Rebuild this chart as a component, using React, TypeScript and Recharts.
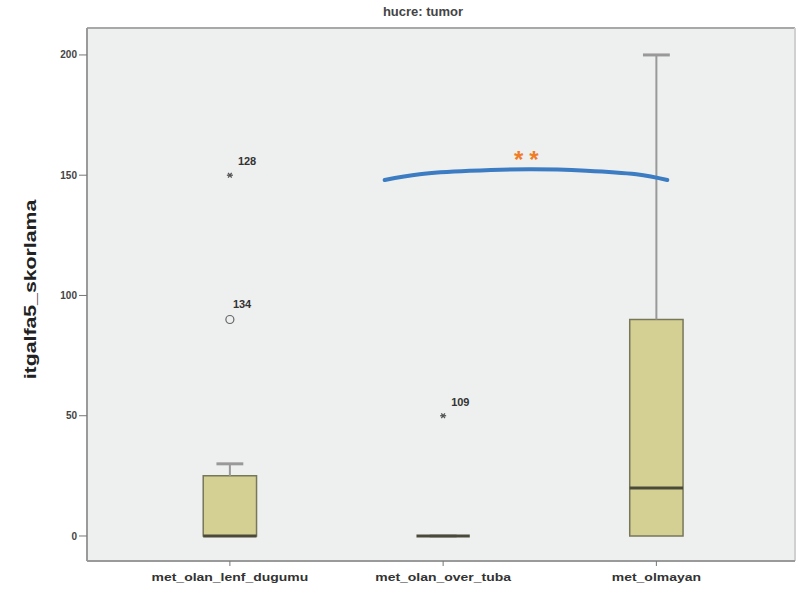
import React from 'react';
import {
  ComposedChart,
  XAxis,
  YAxis,
  CartesianGrid,
  Scatter,
  Line,
  ReferenceArea,
  ReferenceLine,
  ReferenceDot,
} from 'recharts';

// groups on the x axis (positions 0, 1, 2)
const categories = ['met_olan_lenf_dugumu', 'met_olan_over_tuba', 'met_olmayan'];

// box plot statistics per group
const whiskerLow = [0, 0, 0];
const q1 = [0, 0, 0];
const median = [0, 0, 20];
const q3 = [25, 0, 90];
const whiskerHigh = [30, 0, 200];

// extreme values (*) and outliers (o) with their case numbers
const extremes = [
  { group: 0, value: 150, id: '128' },
  { group: 1, value: 50, id: '109' },
];
const outliers = [{ group: 0, value: 90, id: '134' }];

// significance bracket drawn over the last two groups
const bracketX = [0.726, 0.89, 1.124, 1.405, 1.672, 1.906, 2.051];
const bracketY = [148, 150.4, 151.8, 152.5, 151.9, 150.4, 148];
const bracketMark = { x: 1.39, y: 158.5, text: '**' };

const yTicks = [0, 50, 100, 150, 200];
const yTitle = 'itgalfa5_skorlama';
const xDomain: [number, number] = [-0.67, 2.65];
const yDomain: [number, number] = [-10.4, 211.2];

const BOX_HALF = 0.125;
const CAP_HALF = 0.063;
const FONT = '"Liberation Sans", Arial, sans-serif';

const bracketData = bracketX.map((x, i) => ({ x, y: bracketY[i] }));
const extremeData = extremes.map((d) => ({ x: d.group, y: d.value, id: d.id }));
const outlierData = outliers.map((d) => ({ x: d.group, y: d.value, id: d.id }));

const StarShape = (props: any) => {
  const { cx, cy, payload } = props;
  const r = 3;
  return (
    <g>
      <line x1={cx - r} y1={cy} x2={cx + r} y2={cy} stroke="#555" strokeWidth={1.3} />
      <line x1={cx - r * 0.6} y1={cy - r * 0.8} x2={cx + r * 0.6} y2={cy + r * 0.8} stroke="#555" strokeWidth={1.3} />
      <line x1={cx - r * 0.6} y1={cy + r * 0.8} x2={cx + r * 0.6} y2={cy - r * 0.8} stroke="#555" strokeWidth={1.3} />
      <text x={cx + 8} y={cy - 10} fontSize={11} fontWeight="bold" fill="#333" fontFamily={FONT}>
        {payload.id}
      </text>
    </g>
  );
};

const CircleShape = (props: any) => {
  const { cx, cy, payload } = props;
  return (
    <g>
      <circle cx={cx} cy={cy} r={4} fill="none" stroke="#666" strokeWidth={1.2} />
      <text x={cx + 3} y={cy - 12} fontSize={11} fontWeight="bold" fill="#333" fontFamily={FONT}>
        {payload.id}
      </text>
    </g>
  );
};

const MarkShape = (props: any) => {
  const { cx, cy } = props;
  return (
    <text
      x={cx + 3}
      y={cy + 13}
      textAnchor="middle"
      fontSize={24}
      fontWeight="bold"
      letterSpacing={6}
      fill="#f07c28"
      fontFamily={FONT}
    >
      {bracketMark.text}
    </text>
  );
};

// category labels are drawn a little wider than the default glyphs
const CategoryTick = (props: any) => {
  const { x, y, payload } = props;
  return (
    <text
      transform={`translate(${x},${y + 13}) scale(1.27,1)`}
      textAnchor="middle"
      fontSize={11}
      fontWeight="bold"
      fill="#333"
      fontFamily={FONT}
    >
      {categories[payload.value]}
    </text>
  );
};

// rotated axis title, stretched along its length
const YTitle = (props: any) => {
  const { viewBox } = props;
  const cy = viewBox.y + viewBox.height / 2 - 5;
  return (
    <text
      transform={`translate(36,${cy}) rotate(-90) scale(1.33,1)`}
      textAnchor="middle"
      fontSize={16}
      fontWeight="bold"
      fill="#222"
      fontFamily={FONT}
    >
      {yTitle}
    </text>
  );
};

export default function App() {
  return (
    <div style={{ position: 'absolute', left: 0, top: 0, width: 797, height: 594, background: '#fff' }}>
      <div
        style={{
          position: 'absolute',
          top: 4,
          left: 0,
          width: 846,
          textAlign: 'center',
          fontFamily: FONT,
          fontWeight: 'bold',
          fontSize: 13,
          color: '#444',
        }}
      >
        hucre: tumor
      </div>
      <ComposedChart
        width={797}
        height={594}
        margin={{ top: 28, right: 2, bottom: 0, left: 0 }}
      >
        <CartesianGrid horizontal={false} vertical={false} fill="#eeefef" />
        <XAxis
          dataKey="x"
          type="number"
          domain={xDomain}
          ticks={[0, 1, 2]}
          allowDataOverflow
          height={33}
          axisLine={{ stroke: '#9a9a9a', strokeWidth: 2 }}
          tickLine={{ stroke: '#777' }}
          tickSize={5}
          tick={<CategoryTick />}
        />
        <YAxis
          type="number"
          domain={yDomain}
          ticks={yTicks}
          allowDataOverflow
          width={87}
          axisLine={{ stroke: '#9a9a9a', strokeWidth: 2 }}
          tickLine={{ stroke: '#777' }}
          tickSize={8}
          tick={{ fontSize: 10, fontWeight: 'bold', fill: '#444', fontFamily: FONT }}
          label={<YTitle />}
        />
        <ReferenceLine y={yDomain[1]} stroke="#a8a8a8" strokeWidth={2} ifOverflow="visible" />
        <ReferenceLine x={xDomain[1]} stroke="#d0d0d0" strokeWidth={2} ifOverflow="visible" />

        {categories.map((_, i) => (
          <React.Fragment key={i}>
            <ReferenceLine
              segment={[{ x: i, y: whiskerLow[i] }, { x: i, y: q1[i] }]}
              stroke="#999"
              strokeWidth={2}
            />
            <ReferenceLine
              segment={[{ x: i, y: q3[i] }, { x: i, y: whiskerHigh[i] }]}
              stroke="#999"
              strokeWidth={2}
            />
            <ReferenceLine
              segment={[{ x: i - CAP_HALF, y: whiskerHigh[i] }, { x: i + CAP_HALF, y: whiskerHigh[i] }]}
              stroke="#999"
              strokeWidth={3}
            />
            <ReferenceArea
              x1={i - BOX_HALF}
              x2={i + BOX_HALF}
              y1={q1[i]}
              y2={q3[i]}
              fill="#d4d093"
              fillOpacity={1}
              stroke="#77775a"
              strokeWidth={1.5}
            />
            <ReferenceLine
              segment={[{ x: i - BOX_HALF, y: median[i] }, { x: i + BOX_HALF, y: median[i] }]}
              stroke="#4a4a3a"
              strokeWidth={3}
            />
          </React.Fragment>
        ))}

        <Scatter data={extremeData} dataKey="y" shape={<StarShape />} isAnimationActive={false} />
        <Scatter data={outlierData} dataKey="y" shape={<CircleShape />} isAnimationActive={false} />
        <Line
          data={bracketData}
          dataKey="y"
          type="natural"
          stroke="#3b7cc2"
          strokeWidth={4}
          strokeLinecap="round"
          dot={false}
          activeDot={false}
          isAnimationActive={false}
        />
        <ReferenceDot x={bracketMark.x} y={bracketMark.y} r={0} shape={<MarkShape />} />
      </ComposedChart>
    </div>
  );
}
